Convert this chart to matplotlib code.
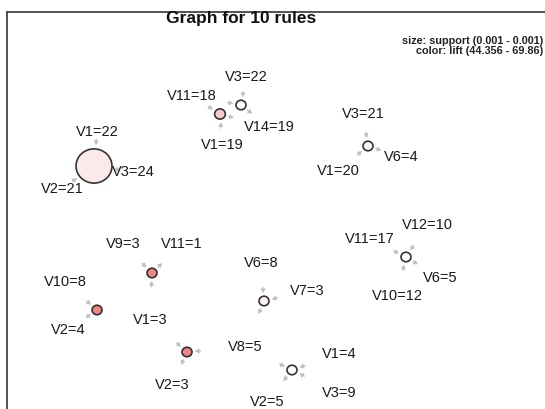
import matplotlib
matplotlib.use("Agg")
import matplotlib.pyplot as plt
from matplotlib.patches import Ellipse, FancyArrowPatch
from matplotlib.lines import Line2D
import numpy as np

# ---- data (graph layout in picture units) ----
item_labels = ["V1=22", "V2=21", "V3=24",
               "V3=22", "V11=18", "V14=19", "V1=19",
               "V3=21", "V1=20", "V6=4",
               "V12=10", "V11=17", "V6=5", "V10=12",
               "V9=3", "V11=1", "V1=3",
               "V10=8", "V2=4", "V2=3",
               "V6=8", "V7=3", "V8=5",
               "V1=4", "V3=9", "V2=5"]
item_x = [97, 62, 133, 246, 192, 269, 222, 363, 338, 401, 427, 370, 440, 397,
          123, 182, 150, 65, 68, 172, 261, 307, 245, 339, 339, 267]
item_y = [132, 189, 172, 77, 96, 127, 145, 114, 171, 157, 225, 239, 278, 296,
          244, 244, 320, 282, 330, 385, 263, 291, 347, 354, 393, 402]

rule_x = [94, 220, 241, 368, 406, 152, 97, 187, 264, 292]
rule_y = [166, 114, 105, 146, 257, 273, 310, 352, 301, 370]
rule_lhs = [["V1=22", "V2=21"], ["V11=18", "V1=19"], ["V3=22", "V11=18"],
            ["V3=21", "V1=20"], ["V11=17", "V12=10", "V10=12"],
            ["V9=3", "V1=3"], ["V10=8"], ["V1=3", "V8=5"],
            ["V6=8", "V7=3"], ["V8=5", "V1=4", "V3=9"]]
rule_rhs = ["V3=24", "V14=19", "V14=19", "V6=4", "V6=5",
            "V11=1", "V2=4", "V2=3", "V8=5", "V2=5"]
support = [0.00135, 0.00101, 0.00100, 0.00100, 0.00100,
           0.00100, 0.00100, 0.00100, 0.00100, 0.00100]
lift = [49.0, 55.0, 44.356, 45.8, 44.356, 69.86, 69.86, 69.86, 47.0, 44.356]

title = "Graph for 10 rules"
legend_lines = ["size: support (0.001 - 0.001)", "color: lift (44.356 - 69.86)"]

# ---- drawing ----
W, H = 545, 409
fig = plt.figure(figsize=(W / 100, H / 100), dpi=100)
ax = fig.add_axes([0, 0, 1, 1])
ax.set_xlim(0, W)
ax.set_ylim(H, 0)
ax.axis("off")

font = ["Liberation Sans", "DejaVu Sans"]

# frame (left and top)
ax.add_line(Line2D([6.5, 6.5], [H, 11.5], color="#444444", lw=1.3))
ax.add_line(Line2D([6.5, W], [11.5, 11.5], color="#444444", lw=1.3))

ax.text(241, 18, title, fontsize=12.5, fontweight="bold", ha="center", va="center",
        family=font, color="#111111")
ax.text(543, 41, legend_lines[0], fontsize=7.8, ha="right", va="center", family=font,
        color="#222222", fontweight="semibold")
ax.text(543, 50.5, legend_lines[1], fontsize=7.8, ha="right", va="center", family=font,
        color="#222222", fontweight="semibold")

smin, smax = min(support), max(support)
lmin, lmax = 44.356, 69.86
lo = np.array([1.0, 1.0, 1.0])
hi = np.array([0xF0, 0x84, 0x84]) / 255.0

pos = {lab: (x, y) for lab, x, y in zip(item_labels, item_x, item_y)}

for i in range(len(rule_x)):
    nx, ny = rule_x[i], rule_y[i]
    r = 5 + (support[i] - smin) / (smax - smin) * 13
    f = (lift[i] - lmin) / (lmax - lmin)
    col = lo + (hi - lo) * f
    ax.add_patch(Ellipse((nx, ny), 2 * r, 2 * r * 0.95, facecolor=col,
                         edgecolor="#333333", lw=1.2, zorder=3))
    edges = [(lab, True) for lab in rule_lhs[i]] + [(rule_rhs[i], False)]
    for lab, incoming in edges:
        lx, ly = pos[lab]
        d = np.array([lx - nx, ly - ny], dtype=float)
        d /= np.linalg.norm(d)
        p_near = np.array([nx, ny]) + d * (r + 3)
        p_far = np.array([nx, ny]) + d * (r + 9)
        if incoming:
            a, b = p_far, p_near
        else:
            a, b = p_near, p_far
        ax.add_patch(FancyArrowPatch(tuple(a), tuple(b), arrowstyle="-|>,head_length=2.2,head_width=1.3",
                                     color="#c0c0c0", lw=0.8, zorder=2,
                                     shrinkA=0, shrinkB=0))

for lab, x, y in zip(item_labels, item_x, item_y):
    ax.text(x, y, lab, fontsize=10.5, ha="center", va="center", family=font,
            color="#1a1a1a")

fig.savefig("out.png", dpi=100)
